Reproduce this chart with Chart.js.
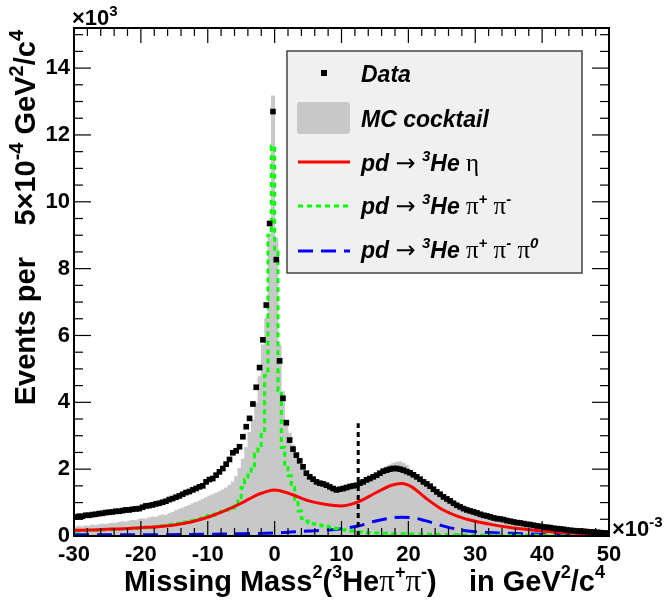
<!DOCTYPE html>
<html>
<head>
<meta charset="utf-8">
<script src="https://cdn.jsdelivr.net/npm/chart.js@4.4.0/dist/chart.umd.min.js"></script>
<style>
html,body{margin:0;padding:0;background:#fff;}
#wrap{width:665px;height:608px;}
</style>
</head>
<body>
<div id="wrap"><canvas id="c" width="665" height="608"></canvas></div>
<script>
// ---------------- DATA (x in 10^-3 GeV^2/c^4, y in 10^3 events) ----------------
const binWidth = 0.5;
const xMin = -30, xMax = 50;
const yMin = 0, yMax = 15.2;
const xTickLabels = [-30, -20, -10, 0, 10, 20, 30, 40, 50];
const yTickLabels = [0, 2, 4, 6, 8, 10, 12, 14];

// bin centres -29.75 ... 49.75
const binCenters = [];
for (let i = 0; i < (xMax - xMin) / binWidth; i++) binCenters.push(xMin + binWidth * (i + 0.5));

const dataVals = [
  0.57,0.59,0.59,0.62,0.62,0.64,0.65,0.67,0.68,0.70,
  0.71,0.72,0.74,0.74,0.76,0.78,0.78,0.80,0.81,0.82,
  0.86,0.90,0.91,0.93,0.96,0.98,1.01,1.04,1.09,1.12,
  1.16,1.20,1.25,1.30,1.33,1.38,1.42,1.47,1.50,1.62,
  1.69,1.72,1.82,1.92,2.02,2.15,2.29,2.49,2.55,2.67,
  2.97,3.27,3.52,3.95,4.45,5.04,5.87,6.91,9.35,12.70,
  8.27,5.24,4.12,3.39,2.87,2.60,2.42,2.25,2.07,1.88,
  1.77,1.70,1.62,1.58,1.56,1.52,1.47,1.42,1.38,1.40,
  1.42,1.45,1.48,1.50,1.52,1.58,1.62,1.68,1.72,1.77,
  1.82,1.88,1.94,1.97,2.00,2.02,2.02,2.00,1.97,1.93,
  1.89,1.83,1.77,1.70,1.62,1.56,1.49,1.40,1.32,1.25,
  1.17,1.11,1.05,0.98,0.92,0.87,0.82,0.78,0.75,0.72,
  0.69,0.65,0.62,0.60,0.57,0.54,0.52,0.51,0.49,0.46,
  0.44,0.42,0.40,0.39,0.37,0.35,0.34,0.32,0.30,0.29,
  0.27,0.26,0.25,0.23,0.22,0.21,0.20,0.18,0.17,0.16,
  0.15,0.15,0.14,0.13,0.12,0.12,0.11,0.10,0.09,0.09
];

const mcVals = [
  0.27,0.30,0.28,0.31,0.30,0.33,0.32,0.34,0.36,0.35,
  0.37,0.39,0.38,0.41,0.43,0.42,0.45,0.47,0.46,0.50,
  0.52,0.51,0.55,0.57,0.56,0.60,0.63,0.62,0.67,0.71,
  0.76,0.80,0.84,0.88,0.92,0.97,1.01,1.05,1.10,1.15,
  1.20,1.24,1.28,1.33,1.38,1.44,1.52,1.62,1.78,2.02,
  2.30,2.65,3.10,3.48,3.98,4.77,5.72,6.52,8.92,13.17,
  8.92,5.72,4.32,3.48,3.08,2.72,2.45,2.20,2.00,1.85,
  1.75,1.66,1.58,1.52,1.50,1.45,1.42,1.40,1.38,1.38,
  1.40,1.42,1.45,1.48,1.52,1.57,1.62,1.70,1.76,1.83,
  1.88,1.95,2.02,2.08,2.13,2.18,2.21,2.22,2.18,2.12,
  1.98,1.90,1.81,1.73,1.64,1.56,1.47,1.39,1.31,1.23,
  1.16,1.09,1.03,0.97,0.91,0.86,0.81,0.77,0.73,0.70,
  0.67,0.64,0.61,0.58,0.55,0.53,0.51,0.49,0.47,0.45,
  0.43,0.41,0.39,0.37,0.36,0.34,0.33,0.31,0.30,0.28,
  0.27,0.25,0.24,0.23,0.21,0.20,0.19,0.18,0.17,0.16,
  0.15,0.14,0.13,0.12,0.12,0.11,0.10,0.09,0.09,0.08
];

const pipiVals = [
  0.14,0.15,0.15,0.16,0.16,0.17,0.17,0.18,0.18,0.19,
  0.19,0.20,0.20,0.21,0.21,0.22,0.22,0.23,0.23,0.24,
  0.25,0.25,0.26,0.27,0.28,0.29,0.30,0.31,0.33,0.35,
  0.37,0.38,0.40,0.42,0.44,0.46,0.48,0.51,0.54,0.58,
  0.61,0.63,0.66,0.70,0.74,0.77,0.80,0.84,0.90,1.15,
  1.45,1.70,1.88,2.10,2.45,2.65,3.10,4.80,9.00,11.67,
  8.50,4.35,2.65,2.10,1.80,1.45,1.10,0.75,0.52,0.45,
  0.40,0.37,0.35,0.33,0.31,0.29,0.26,0.24,0.22,0.20,
  0.19,0.17,0.15,0.14,0.13,0.12,0.11,0.10,0.10,0.09,
  0.09,0.09,0.08,0.08,0.08,0.07,0.07,0.07,0.07,0.06,
  0.06,0.06,0.06,0.06,0.05,0.05,0.05,0.05,0.05,0.04,
  0.04,0.04,0.04,0.04,0.04,0.03,0.03,0.03,0.03,0.03,
  0.03,0.03,0.03,0.03,0.02,0.02,0.02,0.02,0.02,0.02,
  0.02,0.02,0.02,0.02,0.02,0.02,0.02,0.02,0.02,0.02,
  0.02,0.02,0.01,0.01,0.01,0.01,0.01,0.01,0.01,0.01,
  0.01,0.01,0.01,0.01,0.01,0.01,0.01,0.01,0.01,0.01
];

const etaX = [-30,-27.5,-25,-22.5,-20,-17.5,-15,-12.5,-10,-7.5,-5,-2.5,0,2.5,5,7.5,10,12.5,15,17.5,19,20.5,22.5,25,27.5,30,32.5,35,37.5,40,42.5,45,47.5,50];
const etaY = [0.17,0.18,0.20,0.22,0.25,0.28,0.33,0.42,0.56,0.75,0.98,1.24,1.38,1.25,1.06,0.95,0.90,1.02,1.28,1.52,1.57,1.47,1.15,0.80,0.58,0.44,0.34,0.26,0.20,0.15,0.11,0.08,0.06,0.05];

const pi3X = [-30,-20,-10,-5,0,5,8,10,12.5,15,17.5,19,20.5,22.5,25,27.5,30,35,40,45,50];
const pi3Y = [0.04,0.04,0.05,0.07,0.09,0.15,0.18,0.22,0.30,0.44,0.54,0.56,0.55,0.46,0.31,0.19,0.13,0.08,0.05,0.04,0.03];

const cutX = 12.5;
const cutTop = 3.37;

// ---------------- helpers ----------------
const FAM = '"Liberation Sans", Arial, Helvetica, sans-serif';
const SERIF = '"Liberation Serif", "Times New Roman", serif';
const pts = (xs, ys) => xs.map((v, i) => ({x: v, y: ys[i]}));

function drawRich(ctx, segs, x, y, align) {
  let w = 0;
  segs.forEach(s => { ctx.font = s.f; s.w = ctx.measureText(s.t).width; w += s.w; });
  let cx = align === 'right' ? x - w : (align === 'center' ? x - w / 2 : x);
  segs.forEach(s => { ctx.font = s.f; ctx.fillText(s.t, cx, y + (s.dy || 0)); cx += s.w; });
  return w;
}

const rootStyle = {
  id: 'rootStyle',
  afterDraw(chart) {
    const {ctx, chartArea: a, scales: {x, y}} = chart;
    ctx.save();
    ctx.strokeStyle = '#000';
    ctx.lineWidth = 1.2;
    const line = (x1, y1, x2, y2) => { ctx.beginPath(); ctx.moveTo(x1, y1); ctx.lineTo(x2, y2); ctx.stroke(); };
    // x ticks (every 2, major every 10)
    for (let v = xMin; v <= xMax + 1e-9; v += 2) {
      const px = x.getPixelForValue(v);
      const major = Math.abs(v / 10 - Math.round(v / 10)) < 1e-6;
      const L = major ? 15 : 8;
      line(px, a.bottom, px, a.bottom - L);
      line(px, a.top, px, a.top + L);
    }
    // y ticks (every 0.5, major every 2)
    for (let v = yMin; v <= yMax + 1e-9; v += 0.5) {
      const py = y.getPixelForValue(v);
      const major = Math.abs(v / 2 - Math.round(v / 2)) < 1e-6;
      const L = major ? 17 : 9;
      line(a.left, py, a.left + L, py);
      line(a.right, py, a.right - L, py);
    }
    // frame
    ctx.lineWidth = 2;
    ctx.strokeRect(a.left, a.top, a.right - a.left, a.bottom - a.top);

    // ---- legend box ----
    const lx = 287, ly = 51, lw = 295, lh = 222;
    ctx.fillStyle = '#f0f0f0';
    ctx.fillRect(lx, ly, lw, lh);
    ctx.lineWidth = 1.5;
    ctx.strokeStyle = '#444';
    ctx.strokeRect(lx, ly, lw, lh);
    const ds = chart.data.datasets;
    const BI = 'italic bold 23px ' + FAM;
    const SUP = 'italic bold 15px ' + FAM;
    const ARR = '24px "DejaVu Sans", ' + FAM;
    const SYM = '25px ' + SERIF;
    const tx = 361;
    ctx.textBaseline = 'alphabetic';
    // Data
    ctx.fillStyle = ds[0].backgroundColor;
    ctx.fillRect(321, 70, 6, 6);
    ctx.fillStyle = '#000';
    drawRich(ctx, [{t: ds[0].label, f: BI}], tx, 82, 'left');
    // MC
    ctx.fillStyle = ds[5].backgroundColor;
    ctx.beginPath();
    if (ctx.roundRect) ctx.roundRect(297, 102, 53, 32, 3); else ctx.rect(297, 102, 53, 32);
    ctx.fill();
    ctx.fillStyle = '#000';
    drawRich(ctx, [{t: ds[5].label, f: BI}], tx, 127, 'left');
    // line swatches
    const sw = (d, yy) => {
      ctx.save();
      ctx.strokeStyle = d.borderColor; ctx.lineWidth = 3;
      ctx.setLineDash(d.borderDash || []);
      line(298, yy, 350, yy);
      ctx.restore();
    };
    sw(ds[2], 162); sw(ds[3], 206); sw(ds[4], 251);
    ctx.fillStyle = '#000';
    const head = [{t: 'pd ', f: BI}, {t: '\u2192', f: ARR}, {t: ' ', f: BI}, {t: '3', f: SUP, dy: -10}, {t: 'He', f: BI}];
    drawRich(ctx, head.concat([{t: ' \u03B7', f: SYM}]), tx, 171, 'left');
    drawRich(ctx, head.concat([{t: ' \u03C0', f: SYM}, {t: '+', f: SUP, dy: -10}, {t: ' \u03C0', f: SYM}, {t: '-', f: SUP, dy: -10}]), tx, 214, 'left');
    drawRich(ctx, head.concat([{t: ' \u03C0', f: SYM}, {t: '+', f: SUP, dy: -10}, {t: ' \u03C0', f: SYM}, {t: '-', f: SUP, dy: -10}, {t: ' \u03C0', f: SYM}, {t: '0', f: SUP, dy: -10}]), tx, 258, 'left');

    // ---- axis titles ----
    const TB = 'bold 29px ' + FAM;
    const TS = 'bold 18px ' + FAM;
    const TP = '31px ' + SERIF;
    drawRich(ctx, [
      {t: 'Missing Mass', f: TB}, {t: '2', f: TS, dy: -13}, {t: '(', f: TB}, {t: '3', f: TS, dy: -13},
      {t: 'He', f: TB}, {t: '\u03C0', f: TP}, {t: '+', f: TS, dy: -13}, {t: '\u03C0', f: TP}, {t: '-', f: TS, dy: -13},
      {t: ')    in GeV', f: TB}, {t: '2', f: TS, dy: -13}, {t: '/c', f: TB}, {t: '4', f: TS, dy: -13}
    ], 605, 591, 'right');

    ctx.save();
    ctx.translate(35, 0);
    ctx.rotate(-Math.PI / 2);
    const YB = 'bold 29px ' + FAM;
    const YS = 'bold 20px ' + FAM;
    // rotated frame: x coordinate = -screenY
    drawRich(ctx, [{t: 'Events per', f: YB}], -257, 0, 'right');
    drawRich(ctx, [
      {t: '5\u00D710', f: YB}, {t: '-4', f: YS, dy: -12},
      {t: ' GeV', f: YB}, {t: '2', f: YS, dy: -12}, {t: '/c', f: YB}, {t: '4', f: YS, dy: -12}
    ], -30, 0, 'right');
    ctx.restore();

    // ---- exponent labels ----
    const EB = 'bold 22px ' + FAM;
    const ES = 'bold 15px ' + FAM;
    drawRich(ctx, [{t: '\u00D710', f: EB}, {t: '3', f: ES, dy: -9}], 72, 25, 'left');
    drawRich(ctx, [{t: '\u00D710', f: EB}, {t: '-3', f: ES, dy: -9}], 612, 536, 'left');
    ctx.restore();
  }
};

const tickFont = {family: FAM, size: 22, weight: 'bold'};

new Chart(document.getElementById('c'), {
  type: 'bar',
  data: {
    datasets: [
      {type: 'line', label: 'Data', data: pts(binCenters, dataVals), showLine: false,
       pointStyle: 'rect', pointRadius: 4, pointBorderWidth: 0,
       backgroundColor: '#000000', borderColor: '#000000', order: 0},
      {type: 'line', label: 'cut', data: [{x: cutX, y: 0}, {x: cutX, y: cutTop}],
       borderColor: '#000000', borderDash: [5, 4], borderWidth: 3, pointRadius: 0, order: 1},
      {type: 'line', label: 'pd \u2192 3He \u03B7', data: pts(etaX, etaY), borderColor: '#ff0000',
       borderWidth: 3, pointRadius: 0, cubicInterpolationMode: 'monotone', fill: false, order: 2},
      {type: 'line', label: 'pd \u2192 3He \u03C0+ \u03C0-', data: pts(binCenters, pipiVals), stepped: 'middle',
       borderColor: '#00ff00', borderDash: [5, 4], borderWidth: 3, pointRadius: 0, fill: false, order: 3},
      {type: 'line', label: 'pd \u2192 3He \u03C0+ \u03C0- \u03C00', data: pts(pi3X, pi3Y), borderColor: '#0000ff',
       borderDash: [15, 8], borderWidth: 3, pointRadius: 0, cubicInterpolationMode: 'monotone', fill: false, order: 4},
      {type: 'bar', label: 'MC cocktail', data: pts(binCenters, mcVals), backgroundColor: '#c8c8c8',
       borderWidth: 0, barPercentage: 1, categoryPercentage: 1, order: 5}
    ]
  },
  options: {
    responsive: false,
    animation: false,
    layout: {padding: {top: 28, right: 56, left: 0, bottom: 0}},
    plugins: {legend: {display: false}, tooltip: {enabled: false}},
    scales: {
      x: {
        type: 'linear', min: xMin, max: xMax, offset: false,
        grid: {display: false, drawTicks: false}, border: {display: false},
        ticks: {font: tickFont, color: '#000', padding: 6, maxRotation: 0, autoSkip: false},
        afterBuildTicks(s) { s.ticks = xTickLabels.map(v => ({value: v})); },
        afterFit(s) { s.height = 72; }
      },
      y: {
        type: 'linear', min: yMin, max: yMax,
        grid: {display: false, drawTicks: false}, border: {display: false},
        ticks: {font: tickFont, color: '#000', padding: 4},
        afterBuildTicks(s) { s.ticks = yTickLabels.map(v => ({value: v})); },
        afterFit(s) { s.width = 74; }
      }
    }
  },
  plugins: [rootStyle]
});
</script>
</body>
</html>
